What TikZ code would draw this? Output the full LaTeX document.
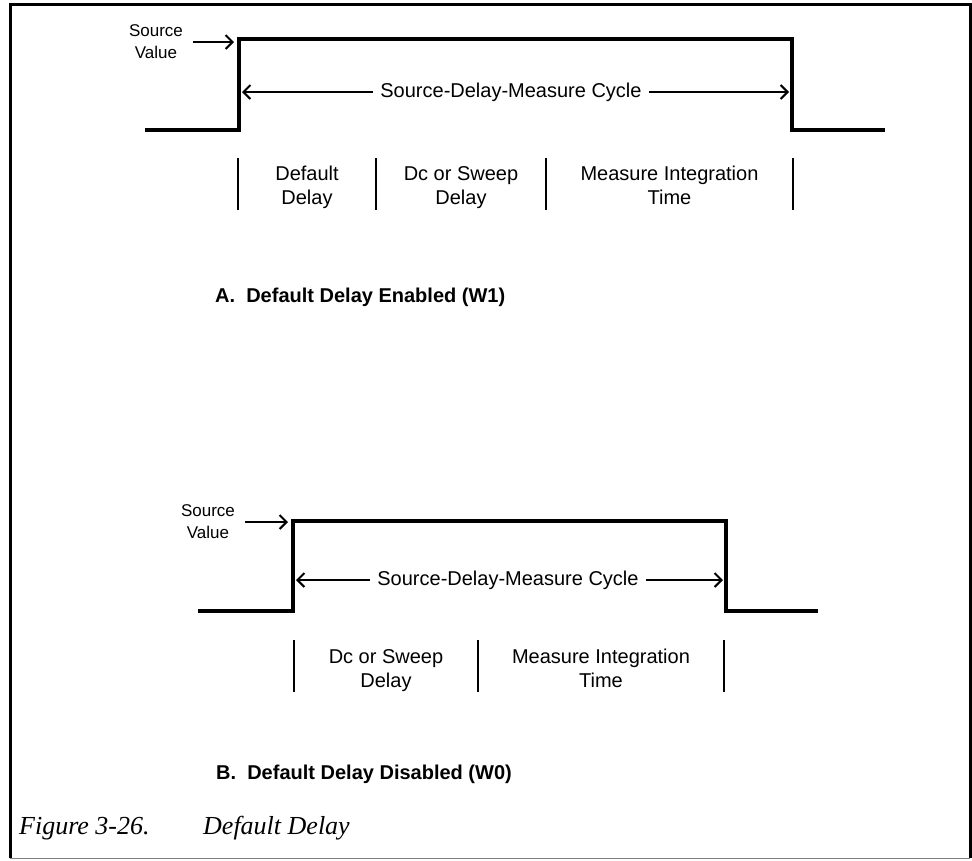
\documentclass[tikz,border=0pt]{standalone}
\usepackage{fontspec}
\setmainfont{Liberation Sans}
\newfontfamily\capfont{Liberation Serif}
\usetikzlibrary{arrows.meta,positioning,calc}

\begin{document}
\begin{tikzpicture}[x=1pt,y=-1pt,
    wave/.style={line width=4.5pt,line join=miter},
    bar/.style={line width=2.4pt},
    ptr/.style={line width=1.8pt,-{Straight Barb[length=7pt,width=14pt,line width=2pt]}},
    lbl/.style={font=\fontsize{20}{24}\selectfont,align=center,inner sep=0pt,anchor=north,
      execute at begin node=\strut},
    src/.style={font=\fontsize{17}{22}\selectfont,align=center,inner sep=0pt},
    cyc/.style={font=\fontsize{20}{24}\selectfont,inner sep=7pt},
    ttl/.style={font=\fontsize{20}{24}\selectfont\bfseries,anchor=west,inner sep=0pt},
    capt/.style={font=\capfont\itshape\fontsize{26}{30}\selectfont,anchor=base west,inner sep=0pt}]
  \useasboundingbox (0,0) rectangle (972,860);
  \draw[line width=3pt] (10,858) -- (10,4) -- (970,4) -- (970,858);
  \draw[gray,line width=1pt] (10,858) -- (970,858);

  % A: default delay enabled
  \coordinate (a0) at (145,130);
  \coordinate (a1) at (239,130);
  \coordinate (a2) at (239,39);
  \coordinate (a3) at (792,39);
  \coordinate (a4) at (792,130);
  \coordinate (a5) at (885,130);
  \draw[wave] (a0) -- (a1) -- (a2) -- (a3) -- (a4) -- (a5);
  \node[src] (srcA) at (156,42) {Source\\Value};
  \draw[ptr] ([xshift=10pt]srcA.east) -- ([xshift=-5pt]srcA.east -| a2);
  \node[cyc] (cycA) at (511,92) {Source-Delay-Measure Cycle};
  \draw[ptr] (cycA.west) -- ([xshift=3pt]cycA.west -| a1);
  \draw[ptr] (cycA.east) -- ([xshift=-3pt]cycA.east -| a4);
  \foreach \x[count=\i] in {238,376,546,793}
    \draw[bar] (\x,158) coordinate (barA\i) -- (\x,210);
  \foreach \x/\t[count=\i] in {307/{Default\\Delay},461/{Dc or Sweep\\Delay},669.5/{Measure Integration\\Time}}
    \node[lbl] (labA\i) at (\x,166) {\t};
  \node[ttl] (ttlA) at (215,297) {A.\ \ Default Delay Enabled (W1)};

  % B: default delay disabled
  \coordinate (b0) at (198,611);
  \coordinate (b1) at (293,611);
  \coordinate (b2) at (293,521);
  \coordinate (b3) at (726,521);
  \coordinate (b4) at (726,611);
  \coordinate (b5) at (818,611);
  \draw[wave] (b0) -- (b1) -- (b2) -- (b3) -- (b4) -- (b5);
  \node[src] (srcB) at (208,522) {Source\\Value};
  \draw[ptr] ([xshift=10pt]srcB.east) -- ([xshift=-5pt]srcB.east -| b2);
  \node[cyc] (cycB) at (508,580) {Source-Delay-Measure Cycle};
  \draw[ptr] (cycB.west) -- ([xshift=3pt]cycB.west -| b1);
  \draw[ptr] (cycB.east) -- ([xshift=-3pt]cycB.east -| b4);
  \foreach \x[count=\i] in {294,478,724}
    \draw[bar] (\x,640) coordinate (barB\i) -- (\x,692);
  \foreach \x/\t[count=\i] in {386/{Dc or Sweep\\Delay},601/{Measure Integration\\Time}}
    \node[lbl] (labB\i) at (\x,649) {\t};
  \node[ttl] (ttlB) at (216,774) {B.\ \ Default Delay Disabled (W0)};

  \node[capt] (capNum) at (19,834) {Figure 3-26.};
  \node[capt] (capTxt) at (203,834) {Default Delay};
\end{tikzpicture}
\end{document}
